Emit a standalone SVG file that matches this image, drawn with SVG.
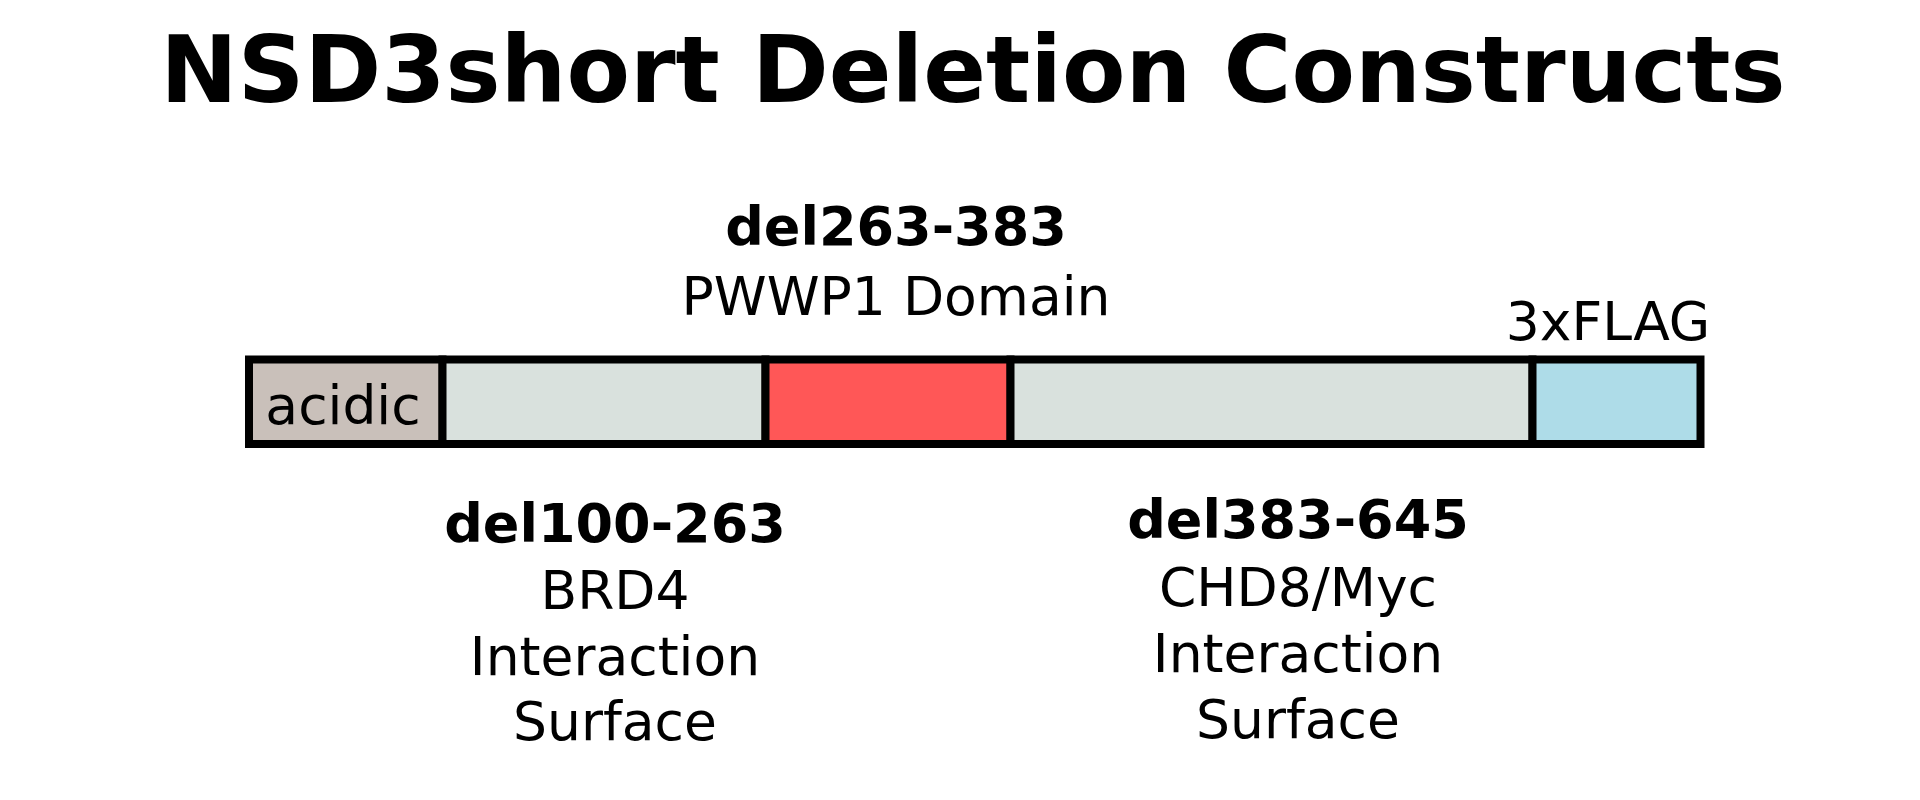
<svg xmlns="http://www.w3.org/2000/svg" width="1920" height="800" viewBox="0 0 1920 800">
<style>
text{font-family:"DejaVu Sans",Verdana,sans-serif;fill:#000;text-anchor:middle}
.t{font-size:92.5px;font-weight:bold}
.b{font-size:54px;font-weight:bold}
.n{font-size:53.5px}
.seg{stroke:#000;stroke-width:8}
</style>
<rect width="1920" height="800" fill="#fff"/>
<g id="title"><text class="t" x="973" y="102">NSD3short Deletion Constructs</text></g>
<g id="bar">
<rect id="acidic" class="seg" x="249" y="359.5" width="193.5" height="84.5" fill="#c9c0ba"/>
<rect id="brd4" class="seg" x="442.5" y="359.5" width="323" height="84.5" fill="#d9e1dd"/>
<rect id="pwwp1" class="seg" x="765.5" y="359.5" width="245" height="84.5" fill="#ff5757"/>
<rect id="chd8" class="seg" x="1010.5" y="359.5" width="522" height="84.5" fill="#d9e1dd"/>
<rect id="flag" class="seg" x="1532.5" y="359.5" width="168" height="84.5" fill="#aedce8"/>
<text class="n" x="343" y="424">acidic</text>
</g>
<g id="label-pwwp1"><text class="b" x="896" y="245">del263-383</text><text class="n" x="896" y="315">PWWP1 Domain</text></g>
<g id="label-flag"><text class="n" x="1608" y="340">3xFLAG</text></g>
<g id="label-brd4"><text class="b" x="615" y="542">del100-263</text><text class="n" x="615" y="609">BRD4</text><text class="n" x="615" y="675">Interaction</text><text class="n" x="615" y="740">Surface</text></g>
<g id="label-chd8"><text class="b" x="1298" y="538">del383-645</text><text class="n" x="1298" y="606">CHD8/Myc</text><text class="n" x="1298" y="672">Interaction</text><text class="n" x="1298" y="738">Surface</text></g>
<g id="connectors"></g>
</svg>
